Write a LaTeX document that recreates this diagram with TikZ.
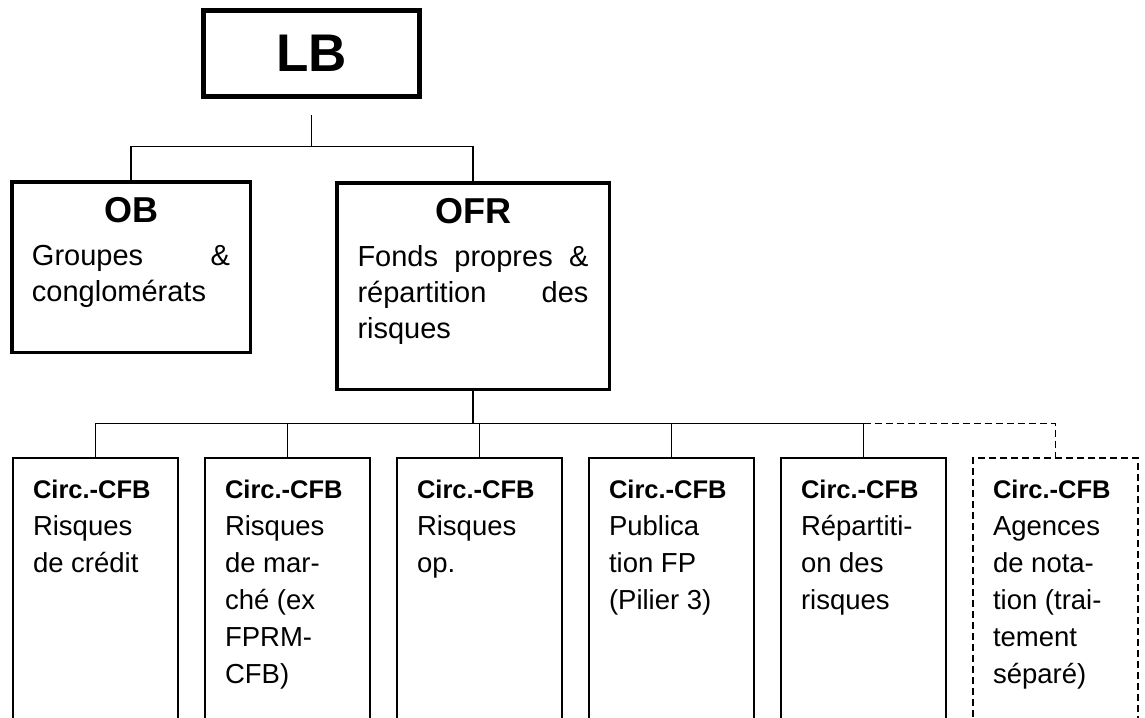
\documentclass[tikz,border=0pt]{standalone}
\usepackage{fontspec}
\setmainfont{Liberation Sans}
\usetikzlibrary{positioning}
\setlength{\parindent}{0pt}

\tikzset{
  topbox/.style={draw,line width=2.5pt,minimum width=108pt,minimum height=43pt,inner sep=0pt,font=\fontsize{26.5}{30}\selectfont\bfseries},
  orgbox/.style={draw,line width=1.75pt,inner sep=0pt},
  orgtext/.style={inner sep=0pt,outer sep=0pt,align=left,font=\fontsize{14.5}{18}\selectfont},
  circbox/.style={draw,line width=1pt,inner sep=0pt,minimum width=82.5pt,minimum height=171pt},
  optbox/.style={circbox,dash pattern=on 3.5pt off 2pt},
  circtext/.style={inner sep=0pt,outer sep=0pt,align=left,font=\fontsize{13.75}{18.5}\selectfont},
  link/.style={line width=0.9pt},
  optlink/.style={link,dash pattern=on 3.5pt off 2pt},
}
\newcommand{\orghead}[1]{\hfill{\fontsize{18}{20}\selectfont\bfseries #1}\hfill\null\\[3.5pt]}
\newcommand{\circhead}{{\fontsize{12.75}{18.5}\selectfont\bfseries Circ.-CFB}}

\begin{document}
\begin{tikzpicture}[x=0.5pt,y=-0.5pt]
  \useasboundingbox (0,0) rectangle (1145,717);
  \clip (0,0) rectangle (1145,717);
  % LB on top
  \node[topbox] (lb) at (311.5,53.5) {LB};
  \coordinate (lbstem) at (311.5,115);
  \coordinate (topbar) at (311.5,146.5);
  % OB and OFR
  \node[orgbox,minimum width=119.25pt,minimum height=85.25pt] (ob) at (131,267) {};
  \node[orgtext,text width=99pt,below=8.5pt of ob.north] (obtext) {\orghead{OB}Groupes\hfill\&\\conglomérats};
  \node[orgbox,minimum width=136.25pt,minimum height=103.25pt] (ofr) at (473,286) {};
  \node[orgtext,text width=115.5pt,below=8.5pt of ofr.north] (ofrtext) {\orghead{OFR}Fonds\hfill propres\hfill\&\\répartition\hfill des\\risques};
  \draw[link] (lbstem) -- (topbar);
  \draw[link] (ob.north) -- (ob.north |- topbar) -- (ofr.north |- topbar) -- (ofr.north);
  % Circ.-CFB row
  \foreach \n/\body in {1/{Risques\\de crédit},
                        2/{Risques\\de mar-\\ché (ex\\FPRM-\\CFB)},
                        3/{Risques\\op.},
                        4/{Publica\\tion FP\\(Pilier 3)},
                        5/{Répartiti-\\on des\\risques}}{
    \node[circbox] (circ\n) at ({95.5+192*(\n-1)},629) {};
    \node[circtext,below right=11.7pt and 10.5pt of circ\n.north west] (circ\n text) {\circhead\\\body};
  }
  \node[optbox] (circ6) at (1055.5,629) {};
  \node[circtext,below right=11.7pt and 10.5pt of circ6.north west] (circ6text) {\circhead\\Agences\\de nota-\\tion (trai-\\tement\\séparé)};
  \coordinate (lowbar) at (473,423.5);
  \draw[link] (ofr.south) -- (ofr.south |- lowbar);
  \draw[link] (circ1.north) -- (circ1.north |- lowbar) -- (circ5.north |- lowbar) -- (circ5.north);
  \foreach \n in {2,3,4}
    \draw[link] (circ\n.north) -- (circ\n.north |- lowbar);
  \draw[optlink] (circ5.north |- lowbar) -- (circ6.north |- lowbar) -- (circ6.north);
\end{tikzpicture}
\end{document}
